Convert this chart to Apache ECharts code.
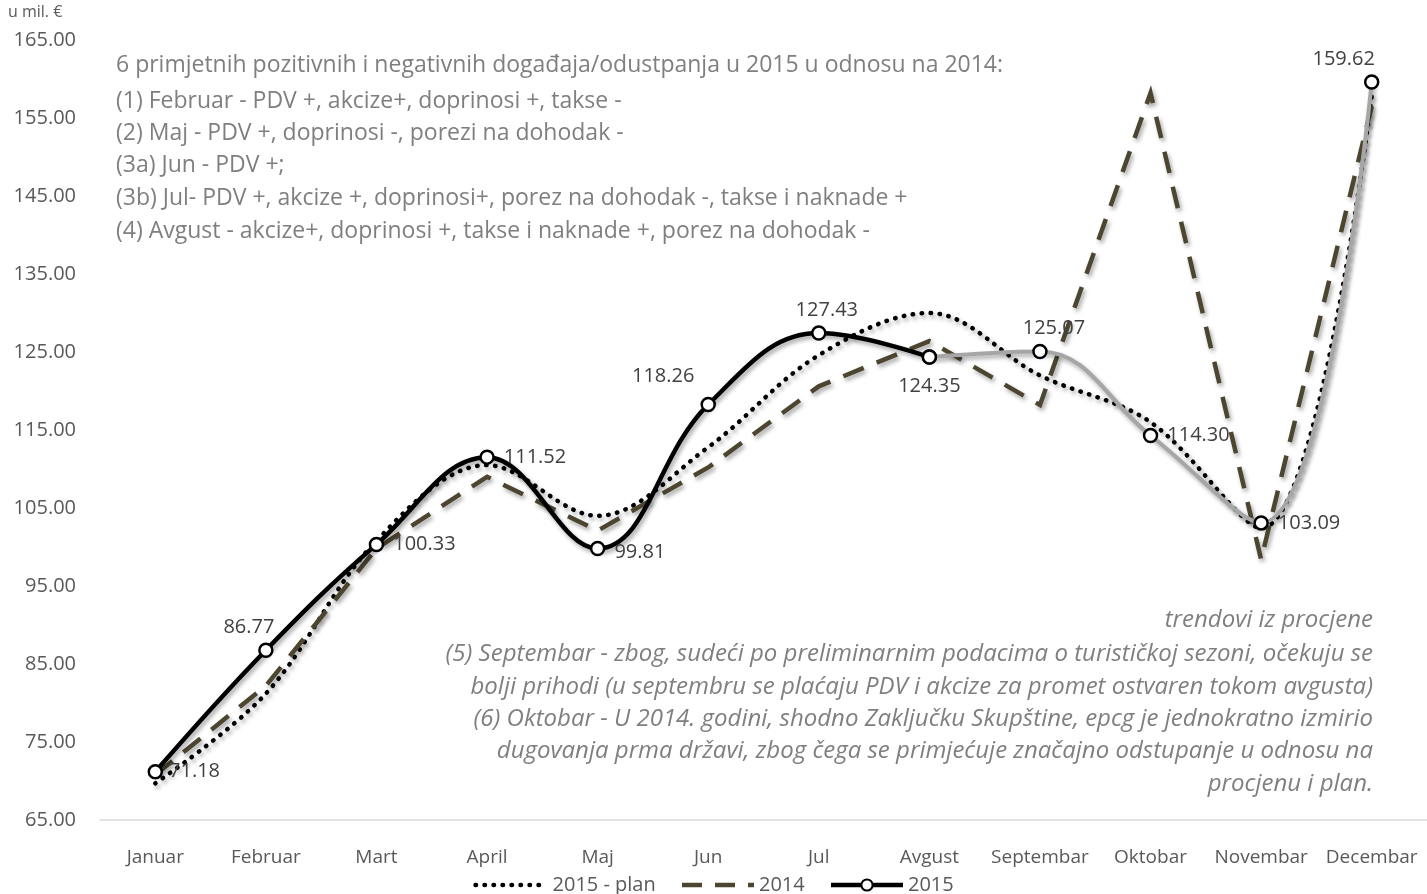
<!DOCTYPE html>
<html>
<head>
<meta charset="utf-8">
<script src="https://cdn.jsdelivr.net/npm/echarts@6/dist/echarts.min.js"></script>
<style>
  html, body { margin: 0; padding: 0; background: #fff; }
  #chart { width: 1427px; height: 894px; }
</style>
</head>
<body>
<div id="chart"></div>
<script>
// months
const months = ['Januar', 'Februar', 'Mart', 'April', 'Maj', 'Jun', 'Jul', 'Avgust', 'Septembar', 'Oktobar', 'Novembar', 'Decembar'];

// series values, u mil. €
const plan2015 = [69.7, 81.2, 100.8, 110.5, 104.0, 112.8, 124.6, 130.0, 122.0, 116.0, 102.4, 157.8];
const actual2014 = [70.8, 82.2, 99.8, 109.0, 102.1, 110.2, 120.6, 126.4, 118.2, 158.2, 98.4, 156.5];
const actual2015 = [71.18, 86.77, 100.33, 111.52, 99.81, 118.26, 127.43, 124.35];
const estimate2015 = [null, null, null, null, null, null, null, 124.35, 125.07, 114.30, 103.09, 159.62];

const yTicks = { min: 65, max: 165, step: 10 };

const notesTop = [
  '6 primjetnih pozitivnih i negativnih događaja/odustpanja u 2015 u odnosu na 2014:',
  '(1) Februar - PDV +, akcize+, doprinosi +, takse -',
  '(2) Maj - PDV +, doprinosi -, porezi na dohodak -',
  '(3a) Jun - PDV +;',
  '(3b) Jul- PDV +, akcize +, doprinosi+, porez na dohodak -, takse i naknade +',
  '(4) Avgust - akcize+, doprinosi +, takse i naknade +, porez na dohodak -'
];
const notesBottom = [
  'trendovi iz procjene',
  '(5) Septembar - zbog, sudeći po preliminarnim podacima o turističkoj sezoni, očekuju se',
  'bolji prihodi (u septembru se plaćaju PDV i akcize za promet ostvaren tokom avgusta)',
  '(6) Oktobar - U 2014. godini, shodno Zaključku Skupštine, epcg je jednokratno izmirio',
  'dugovanja prma državi, zbog čega se primjećuje značajno odstupanje u odnosu na',
  'procjenu i plan.'
];

const FONT = '"Open Sans", Lato, sans-serif';
const shadow = { shadowColor: 'rgba(0,0,0,0.35)', shadowBlur: 4, shadowOffsetX: 2, shadowOffsetY: 3 };

// where each 2015 label sits around its marker
const labelPlace = [
  { position: 'right', distance: 6 },
  { position: 'top', offset: [-17, 0] },
  { position: 'right', distance: 9 },
  { position: 'right', distance: 9 },
  { position: 'right', distance: 9, offset: [0, 4] },
  { position: 'top', offset: [-45, -6] },
  { position: 'top', offset: [8, 0] },
  { position: 'bottom', distance: 11 },
  { position: 'top', offset: [14, 0] },
  { position: 'right', distance: 9 },
  { position: 'right', distance: 9 },
  { position: 'top', offset: [-28, 0] }
];

const withLabels = (arr, from) => arr.map((v, i) => {
  if (v == null) return null;
  if (i < from) return { value: v, label: { show: false } };
  return { value: v, label: Object.assign({ show: true }, labelPlace[i]) };
});

const chart = echarts.init(document.getElementById('chart'));

const marker = { symbol: 'circle', symbolSize: 13, itemStyle: { color: '#fff', borderColor: '#000', borderWidth: 2.5 } };
const labelStyle = { color: '#404040', fontSize: 20, fontFamily: FONT, formatter: p => p.value.toFixed(2) };
const noSymbol = { color: 'rgba(0,0,0,0)', borderColor: 'rgba(0,0,0,0)', borderWidth: 0 };

const graphics = [
  { type: 'text', x: 8, y: 12, style: { text: 'u mil. €', fill: '#595959', font: '16px ' + FONT, verticalAlign: 'middle' } }
];
const topY = [65, 101, 133, 165, 198, 231];
notesTop.forEach((t, i) => graphics.push({
  type: 'text', x: 116, y: topY[i],
  style: { text: t, fill: '#7f7f7f', font: '23px ' + FONT, verticalAlign: 'middle' }
}));
const botY = [620, 654, 687, 719, 751, 784];
notesBottom.forEach((t, i) => graphics.push({
  type: 'text', x: 1373, y: botY[i],
  style: { text: t, fill: '#7f7f7f', font: 'italic 24px ' + FONT, align: 'right', verticalAlign: 'middle' }
}));

chart.setOption({
  animation: false,
  textStyle: { fontFamily: FONT },
  grid: { left: 100, top: 40, width: 1328, bottom: 74 },
  xAxis: {
    type: 'category', data: months,
    axisLine: { lineStyle: { color: '#d9d9d9', width: 1.5 } },
    axisTick: { show: false },
    axisLabel: { color: '#595959', fontSize: 19, margin: 28, interval: 0 }
  },
  yAxis: {
    type: 'value', min: yTicks.min, max: yTicks.max, interval: yTicks.step,
    axisLine: { show: false }, axisTick: { show: false }, splitLine: { show: false },
    axisLabel: { color: '#595959', fontSize: 20, margin: 24, formatter: v => v.toFixed(2) }
  },
  legend: {
    top: 870, left: 'center', itemWidth: 72, itemHeight: 14, itemGap: 24,
    data: [
      { name: '2015 - plan', itemStyle: noSymbol, lineStyle: { width: 4.5, type: [0.5, 8.5], cap: 'round' } },
      { name: '2014', itemStyle: noSymbol, lineStyle: { width: 4.5, type: [20, 13] } },
      { name: '2015', lineStyle: { width: 4.5 } }
    ],
    textStyle: { color: '#595959', fontSize: 20 }
  },
  series: [
    {
      name: '2015 - plan', type: 'line', data: plan2015, smooth: 0.35, symbol: 'none',
      lineStyle: Object.assign({ color: '#000', width: 4.5, type: [0.5, 8.5], cap: 'round' }, shadow),
      itemStyle: { color: '#000' }
    },
    {
      name: '2014', type: 'line', data: actual2014, smooth: false, symbol: 'none',
      lineStyle: Object.assign({ color: '#4c4530', width: 4.5, type: [22, 14], cap: 'butt', join: 'miter' }, shadow),
      itemStyle: { color: '#4c4530' }
    },
    Object.assign({
      name: 'procjena', type: 'line', data: withLabels(estimate2015, 8), smooth: 0.4,
      lineStyle: Object.assign({ color: '#a6a6a6', width: 4 }, shadow),
      label: labelStyle, z: 3
    }, marker),
    Object.assign({
      name: '2015', type: 'line', data: withLabels(actual2015, 0), smooth: 0.4,
      lineStyle: Object.assign({ color: '#000', width: 4.5 }, shadow),
      label: labelStyle, z: 4
    }, marker)
  ],
  graphic: graphics
});
</script>
</body>
</html>
